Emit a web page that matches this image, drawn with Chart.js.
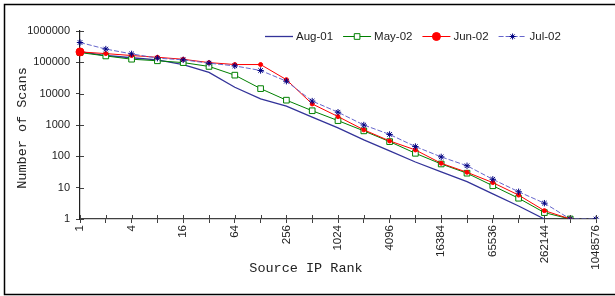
<!DOCTYPE html>
<html>
<head>
<meta charset="utf-8">
<script src="https://cdn.jsdelivr.net/npm/chart.js@4/dist/chart.umd.min.js"></script>
<style>
html,body{margin:0;padding:0;background:#fff;}
canvas{display:block;}
</style>
</head>
<body>
<canvas id="c" width="615" height="296"></canvas>
<script>
// ---- data ----
const ranks = [1,2,4,8,16,32,64,128,256,512,1024,2048,4096,8192,16384,32768,65536,131072,262144,524288,1048576];
const xTickLabels = [1,4,16,64,256,1024,4096,16384,65536,262144,1048576];
const yTickValues = [1,10,100,1000,10000,100000,1000000];
const seriesNames = ['Aug-01','May-02','Jun-02','Jul-02'];
const aug01 = [220000,165000,140000,120000,85000,48000,16000,6800,4000,1780,810,335,150,66,32,15.5,6.3,2.6,1,null,null];
const may02 = [205000,160000,126000,112000,98000,74000,39000,14500,6200,2850,1380,650,295,125,57,29,11.5,4.6,1.6,1,null];
const jun02 = [215000,190000,165000,145000,125000,98000,85000,85000,28000,4700,1860,700,310,160,60,31,14.5,5.8,1.85,1,null];
const jul02 = [430000,265000,186000,136000,120000,94000,77000,55000,25000,5800,2560,1000,500,205,96,50,18.5,7.4,3.2,1,1];

const xTitle = 'Source IP Rank';
const yTitle = 'Number of Scans';

const junRadius = jun02.map((v,i)=> i===0 ? 4 : 2);

const deco = {
  id: 'deco',
  beforeDraw(chart){
    const ctx = chart.ctx;
    ctx.save();
    ctx.fillStyle = '#fff';
    ctx.fillRect(0,0,chart.width,chart.height);
    ctx.restore();
  },
  afterDraw(chart){
    const ctx = chart.ctx;
    const {left, bottom} = chart.chartArea;
    const xs = chart.scales.x, ys = chart.scales.y;
    ctx.save();
    // inward tick marks (ticks cross the axes)
    ctx.strokeStyle = '#404040';
    ctx.lineWidth = 1;
    ctx.beginPath();
    ranks.forEach((r,i)=>{
      const x = Math.round(xs.getPixelForValue(i)) + 0.5;
      ctx.moveTo(x, bottom - 4); ctx.lineTo(x, bottom);
    });
    yTickValues.forEach(v=>{
      const y = Math.round(ys.getPixelForValue(v)) + 0.5;
      ctx.moveTo(left, y); ctx.lineTo(left + 4, y);
    });
    ctx.stroke();

    // axis titles
    ctx.fillStyle = '#222';
    ctx.font = '13.5px "Liberation Mono", "DejaVu Sans Mono", monospace';
    ctx.textAlign = 'center';
    ctx.textBaseline = 'middle';
    ctx.fillText(xTitle, 306, 268);
    ctx.save();
    ctx.translate(22, 128);
    ctx.rotate(-Math.PI/2);
    ctx.fillText(yTitle, 0, 0);
    ctx.restore();

    // legend
    ctx.font = '11.5px "Liberation Sans", Arial, sans-serif';
    ctx.textAlign = 'left';
    ctx.textBaseline = 'middle';
    let lx = 265;
    const ly = 36.5;
    chart.data.datasets.forEach((ds)=>{
      const sw = 28;
      ctx.save();
      ctx.strokeStyle = ds.borderColor;
      ctx.lineWidth = ds.borderWidth;
      ctx.setLineDash(ds.borderDash || []);
      ctx.beginPath();
      ctx.moveTo(lx, ly); ctx.lineTo(lx + sw, ly);
      ctx.stroke();
      ctx.setLineDash([]);
      if (ds.pointStyle && ds.legendRadius){
        ctx.fillStyle = ds.pointBackgroundColor;
        ctx.strokeStyle = ds.pointBorderColor;
        ctx.lineWidth = 1;
        Chart.helpers.drawPoint(ctx, {pointStyle: ds.pointStyle, radius: ds.legendRadius, borderWidth: 1, rotation: 0}, lx + sw/2, ly);
      }
      ctx.restore();
      ctx.fillStyle = '#222';
      ctx.fillText(ds.label, lx + sw + 3, ly);
      lx += sw + 3 + ctx.measureText(ds.label).width + 10;
    });

    // outer border
    ctx.strokeStyle = '#000';
    ctx.lineWidth = 1.5;
    ctx.beginPath();
    ctx.moveTo(615.5, 4.5); ctx.lineTo(4.5, 4.5); ctx.lineTo(4.5, 294.5); ctx.lineTo(615.5, 294.5);
    ctx.stroke();
    ctx.restore();
  }
};

new Chart(document.getElementById('c'), {
  type: 'line',
  data: {
    labels: ranks.map(String),
    datasets: [
      { label: seriesNames[0], data: aug01, borderColor: '#333399', borderWidth: 1.3,
        pointRadius: 0, order: 4, legendRadius: 0, tension: 0 },
      { label: seriesNames[1], data: may02, borderColor: '#008000', borderWidth: 1,
        pointStyle: 'rect', pointRadius: 4, pointBackgroundColor: '#fff', pointBorderColor: '#008000',
        pointBorderWidth: 1, order: 3, legendRadius: 4 },
      { label: seriesNames[2], data: jun02, borderColor: '#ff0000', borderWidth: 1,
        pointStyle: 'circle', pointRadius: junRadius, pointBackgroundColor: '#ff0000', pointBorderColor: '#ff0000',
        pointBorderWidth: 1, order: 2, legendRadius: 4 },
      { label: seriesNames[3], data: jul02, borderColor: '#6666cc', borderWidth: 1, borderDash: [5,2],
        pointStyle: 'star', pointRadius: 3.2, pointBackgroundColor: '#000080', pointBorderColor: '#000080',
        pointBorderWidth: 1, order: 1, legendRadius: 3 }
    ]
  },
  options: {
    responsive: false,
    animation: false,
    devicePixelRatio: 1,
    layout: { padding: { left: 14, right: 19, top: 31, bottom: 20 } },
    plugins: { legend: { display: false }, tooltip: { enabled: false } },
    elements: { line: { tension: 0 } },
    scales: {
      x: {
        type: 'category',
        offset: false,
        grid: { display: true, drawOnChartArea: false, drawTicks: true, tickLength: 4, color: '#404040', offset: false },
        border: { display: true, color: '#404040', width: 1.2 },
        ticks: {
          autoSkip: false, maxRotation: 90, minRotation: 90, padding: 2,
          color: '#222', font: { family: '"Liberation Sans", Arial, sans-serif', size: 11.5 },
          callback: (v, i) => xTickLabels.includes(ranks[i]) ? String(ranks[i]) : ''
        },
        afterFit: (s) => { s.height = 57; }
      },
      y: {
        type: 'logarithmic',
        min: 1, max: 1000000,
        grid: { display: true, drawOnChartArea: false, drawTicks: true, tickLength: 4, color: '#404040' },
        border: { display: true, color: '#202020', width: 1.2 },
        afterBuildTicks: (s) => { s.ticks = yTickValues.map(v => ({ value: v })); },
        ticks: {
          padding: 6, color: '#222', font: { family: '"Liberation Sans", Arial, sans-serif', size: 11 },
          callback: (v) => String(v)
        },
        afterFit: (s) => { s.width = 66; }
      }
    }
  },
  plugins: [deco]
});
</script>
</body>
</html>
